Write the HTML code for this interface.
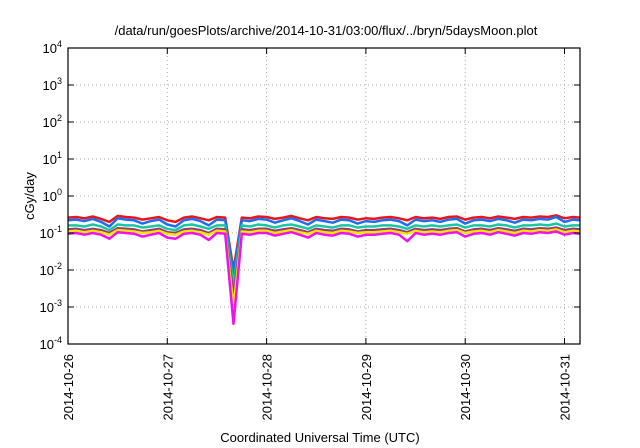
<!DOCTYPE html>
<html><head><meta charset="utf-8"><style>
html,body{margin:0;padding:0;background:#fff}
svg{display:block;font-family:"Liberation Sans",sans-serif}
</style></head><body>
<svg id="c" width="640" height="448">
<text x="326" y="35" font-size="13" text-anchor="middle">/data/run/goesPlots/archive/2014-10-31/03:00/flux/../bryn/5daysMoon.plot</text>
<text x="320" y="442" font-size="13" text-anchor="middle">Coordinated Universal Time (UTC)</text>
<text transform="translate(34,196) rotate(-90)" font-size="13" text-anchor="middle">cGy/day</text>
<g id="grid"></g><g id="series"></g><g id="axes"></g>
</svg>
<script>
const xTickLabels=["2014-10-26","2014-10-27","2014-10-28","2014-10-29","2014-10-30","2014-10-31"];
const yTickExps=[-4,-3,-2,-1,0,1,2,3,4];
const hours=[0,2,4,6,8,10,12,14,16,18,20,22,24,26,28,30,32,34,36,38,40,42,44,46,48,50,52,54,56,58,60,62,64,66,68,70,72,74,76,78,80,82,84,86,88,90,92,94,96,98,100,102,104,106,108,110,112,114,116,118,120,122,124];
const redVals=[0.26,0.27,0.25,0.28,0.24,0.20,0.29,0.27,0.26,0.23,0.25,0.27,0.22,0.20,0.26,0.28,0.25,0.22,0.27,0.26,0.01,0.26,0.25,0.28,0.27,0.24,0.26,0.29,0.25,0.22,0.27,0.25,0.24,0.27,0.26,0.23,0.25,0.24,0.26,0.27,0.25,0.22,0.27,0.25,0.26,0.24,0.27,0.28,0.23,0.26,0.27,0.25,0.28,0.26,0.24,0.27,0.26,0.28,0.27,0.30,0.25,0.27,0.26];
const blueVals=[0.22,0.23,0.21,0.24,0.20,0.15,0.25,0.23,0.22,0.18,0.21,0.23,0.17,0.15,0.22,0.24,0.21,0.16,0.23,0.22,0.008,0.22,0.21,0.24,0.23,0.19,0.22,0.25,0.21,0.17,0.23,0.21,0.19,0.23,0.22,0.18,0.21,0.20,0.22,0.23,0.21,0.16,0.23,0.21,0.22,0.20,0.23,0.24,0.18,0.22,0.23,0.21,0.24,0.22,0.19,0.23,0.22,0.24,0.23,0.27,0.20,0.23,0.22];
const tealVals=[0.16,0.16,0.15,0.17,0.15,0.12,0.17,0.16,0.16,0.14,0.15,0.16,0.13,0.12,0.16,0.17,0.15,0.13,0.16,0.16,0.004,0.16,0.15,0.17,0.16,0.14,0.16,0.17,0.15,0.13,0.16,0.15,0.14,0.16,0.16,0.14,0.15,0.15,0.16,0.16,0.15,0.13,0.16,0.15,0.16,0.15,0.16,0.17,0.14,0.16,0.16,0.15,0.17,0.16,0.14,0.16,0.16,0.17,0.16,0.18,0.15,0.16,0.16];
const purpleVals=[0.125,0.13,0.12,0.13,0.12,0.10,0.135,0.13,0.125,0.11,0.12,0.13,0.105,0.10,0.125,0.13,0.12,0.10,0.13,0.125,0.002,0.125,0.12,0.13,0.13,0.115,0.125,0.135,0.12,0.105,0.13,0.12,0.115,0.13,0.125,0.11,0.12,0.12,0.125,0.13,0.12,0.105,0.13,0.12,0.125,0.12,0.13,0.135,0.11,0.125,0.13,0.12,0.135,0.125,0.115,0.13,0.125,0.135,0.13,0.14,0.12,0.13,0.125];
const yellowVals=[0.11,0.115,0.105,0.115,0.105,0.09,0.12,0.115,0.11,0.10,0.105,0.115,0.095,0.09,0.11,0.115,0.105,0.09,0.115,0.11,0.001,0.11,0.105,0.115,0.115,0.10,0.11,0.12,0.105,0.095,0.115,0.105,0.10,0.115,0.11,0.10,0.105,0.105,0.11,0.115,0.105,0.095,0.115,0.105,0.11,0.105,0.115,0.12,0.10,0.11,0.115,0.105,0.12,0.11,0.10,0.115,0.11,0.12,0.115,0.125,0.105,0.115,0.11];
const magentaVals=[0.095,0.10,0.09,0.10,0.09,0.07,0.105,0.10,0.095,0.08,0.09,0.10,0.075,0.07,0.095,0.10,0.09,0.065,0.10,0.095,0.00035,0.095,0.09,0.10,0.10,0.085,0.095,0.105,0.09,0.075,0.10,0.09,0.085,0.10,0.095,0.08,0.09,0.09,0.095,0.10,0.09,0.06,0.10,0.09,0.095,0.09,0.10,0.105,0.08,0.095,0.10,0.09,0.105,0.095,0.085,0.10,0.095,0.105,0.10,0.11,0.09,0.10,0.095];
const seriesList=[["red",redVals,"#e8161c"],["blue",blueVals,"#1e6ef0"],["teal",tealVals,"#17c8a0"],["purple",purpleVals,"#9a3a7a"],["yellow",yellowVals,"#f2e600"],["magenta",magentaVals,"#f010f0"]];
const L=68,R=580,T=48,B=344,dayPx=99.3,hMax=(R-L)/dayPx*24;
const xs=h=>L+h/24*dayPx;
const ys=v=>B-(Math.log10(v)+4)*(B-T)/8;
const NS="http://www.w3.org/2000/svg";
function mk(tag,parent,attrs){const e=document.createElementNS(NS,tag);for(const k in attrs)e.setAttribute(k,attrs[k]);parent.appendChild(e);return e;}
const grid=document.getElementById('grid'),axes=document.getElementById('axes'),ser=document.getElementById('series');
yTickExps.forEach(p=>{const y=ys(Math.pow(10,p));
 if(p>-4&&p<4){const g=mk('line',grid,{x1:L,x2:R,y1:y,y2:y,stroke:'#aaa','stroke-dasharray':'1,3','stroke-width':1});
 
 }
 const t1=mk('line',axes,{x1:L,x2:L+6,y1:y,y2:y,stroke:'#000'});
 
 
 const t2=mk('line',axes,{x1:R-6,x2:R,y1:y,y2:y,stroke:'#000'});
 
 
 const tx=mk('text',axes,{x:L-6,y:y+5,'font-size':13,'text-anchor':'end'});
 
 
 tx.textContent='10';const s=mk('tspan',tx,{dy:-6,'font-size':9});s.textContent=String(p);
});
xTickLabels.forEach((lab,i)=>{const x=xs(i*24);
 if(i>0){const g=mk('line',grid,{x1:x,x2:x,y1:T,y2:B,stroke:'#aaa','stroke-dasharray':'1,3'});
 
 }
 const t=mk('line',axes,{x1:x,x2:x,y1:B-6,y2:B,stroke:'#000'});
 
 
 const t2=mk('line',axes,{x1:x,x2:x,y1:T,y2:T+6,stroke:'#000'});
 
 
 const tx=mk('text',axes,{transform:`translate(${x+5},${B+10}) rotate(-90)`,'font-size':13,'text-anchor':'end'});
 
 
 tx.textContent=lab;});
const fr=mk('rect',axes,{x:L,y:T,width:R-L,height:B-T,fill:'none',stroke:'#000','stroke-width':1.2});


seriesList.forEach(([name,vals,col])=>{
 const pts=hours.map((h,i)=>xs(Math.min(h,hMax)).toFixed(1)+','+ys(vals[i]).toFixed(1)).join(' ');
 const pl=mk('polyline',ser,{points:pts,fill:'none',stroke:col,'stroke-width':2.5,'stroke-linejoin':'round'});
 
 });
</script>
</body></html>
